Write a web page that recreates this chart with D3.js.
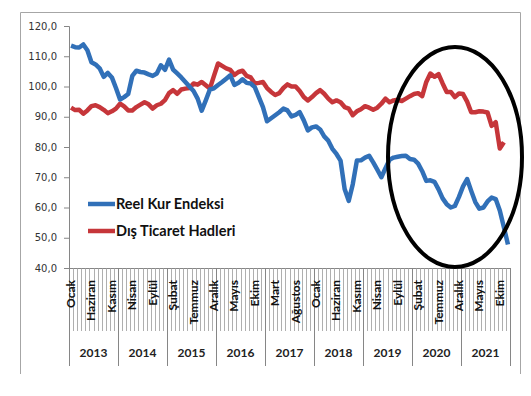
<!DOCTYPE html>
<html>
<head>
<meta charset="utf-8">
<script src="https://cdn.jsdelivr.net/npm/d3@7"></script>
<style>
  body { margin: 0; background: #fff; }
  svg { display: block; }
</style>
</head>
<body>
<svg id="chart" width="531" height="396"></svg>
<script>
// tick labels
const years = ['2013', '2014', '2015', '2016', '2017', '2018', '2019', '2020', '2021'];
const monthNames = ['Ocak', 'Şubat', 'Mart', 'Nisan', 'Mayıs', 'Haziran', 'Temmuz', 'Ağustos', 'Eylül', 'Ekim', 'Kasım', 'Aralık'];
const yTicks = [40, 50, 60, 70, 80, 90, 100, 110, 120];

// series
const kur = [
  113.5, 113.0, 112.9, 113.9, 112.0, 108.0, 107.3, 106.0, 103.2, 104.5, 103.0, 99.5,
  95.7, 96.5, 97.5, 103.5, 105.2, 104.8, 104.6, 104.0, 103.5, 104.3, 107.0, 105.5,
  108.9, 105.6, 104.3, 103.0, 101.5, 100.0, 98.5, 96.0, 92.0, 95.4, 99.0, 99.4,
  100.5, 101.5, 102.6, 103.7, 100.5, 101.2, 102.4, 101.2, 101.0, 99.8, 96.5, 93.2,
  88.5, 89.5, 90.5, 91.5, 92.7, 92.1, 90.1, 90.6, 91.5, 88.8, 85.5, 86.5,
  86.8, 85.8, 83.5, 82.1, 79.4, 77.7, 75.5, 66.1, 62.2, 67.7, 75.5, 75.6,
  76.5, 77.1, 74.9, 72.5, 70.0, 73.0, 75.8, 76.5, 76.8, 77.0, 77.1, 76.0,
  75.8, 74.5, 72.0, 68.8, 69.0, 68.5, 66.0, 63.0, 61.1, 60.0, 60.5, 63.5,
  67.0, 69.4, 65.5, 61.8, 59.6, 60.0, 62.0, 63.3, 62.8, 59.0, 53.5, 47.8
];
const ticaret = [
  93.0, 92.2, 92.3, 91.0, 92.1, 93.5, 93.8, 93.2, 92.3, 91.2, 91.8, 92.7,
  94.3, 93.4, 92.1, 92.1, 93.2, 94.0, 94.8, 94.1, 92.7, 93.8, 94.3, 95.5,
  97.8, 98.8, 97.6, 99.0, 99.3, 99.5, 101.0, 100.6, 101.5, 100.4, 99.3, 103.5,
  107.6, 106.8, 106.0, 105.5, 103.8, 104.8, 105.2, 103.5, 103.0, 101.0, 101.2, 101.5,
  99.5, 98.2, 97.2, 97.8, 99.5, 100.7, 100.0, 100.0, 98.5, 96.5, 95.4, 96.5,
  97.8, 98.8, 97.6, 96.0, 94.8, 95.4, 94.8, 93.2, 92.7, 90.5, 91.8, 92.5,
  93.5, 93.0, 92.3, 93.0, 94.3, 96.0, 94.8, 95.4, 95.6, 95.2, 96.0, 96.8,
  97.5, 97.8, 96.8, 101.5, 104.3, 103.2, 104.1, 101.0, 98.2, 98.2, 96.5, 97.7,
  97.5, 95.0, 91.5, 91.5, 91.8, 91.7, 91.4, 87.0, 88.2, 79.5, 81.6
];
const seriesNames = ['Reel Kur Endeksi', 'Dış Ticaret Hadleri'];
const seriesColors = ['#3170b8', '#c6363a'];

const months = years.flatMap(y => monthNames.map(m => y + ' ' + m));

const svg = d3.select('#chart');
const plotLeft = 69, plotRight = 510, plotTop = 26, plotBottom = 268;

const x = d3.scaleBand().domain(d3.range(months.length)).range([plotLeft, plotRight]).padding(0);
const y = d3.scaleLinear().domain([40, 120]).range([plotBottom, plotTop]);
const bw = x.bandwidth();

// outer frame (no bottom edge visible)
svg.append('path')
  .attr('d', 'M20.5,374V12.5H520.5V374')
  .attr('fill', 'none')
  .attr('stroke', '#a6a6a6')
  .attr('stroke-width', 1);

// y axis
const yAxis = svg.append('g')
  .attr('transform', `translate(${plotLeft},0)`)
  .call(d3.axisLeft(y).tickValues(yTicks).tickSize(5).tickPadding(7)
    .tickFormat(d => d3.format('.1f')(d).replace('.', ',')));
yAxis.select('.domain').attr('stroke', '#868686');
yAxis.selectAll('.tick line').attr('stroke', '#868686');
yAxis.selectAll('text')
  .attr('font-family', 'DejaVu Sans')
  .attr('font-size', 10)
  .attr('fill', '#333');

// x axis: month ticks
const xg = svg.append('g');
xg.append('line')
  .attr('x1', plotLeft).attr('x2', plotRight)
  .attr('y1', plotBottom + 0.5).attr('y2', plotBottom + 0.5)
  .attr('stroke', '#868686');
xg.selectAll('line.mt')
  .data(d3.range(months.length + 1))
  .enter().append('line')
  .attr('class', 'mt')
  .attr('x1', i => Math.round(plotLeft + i * bw) + 0.5)
  .attr('x2', i => Math.round(plotLeft + i * bw) + 0.5)
  .attr('y1', plotBottom)
  .attr('y2', 331)
  .attr('stroke', '#9a9a9a')
  .attr('stroke-width', 0.8);

// year dividers
xg.selectAll('line.yr')
  .data(d3.range(years.length + 1))
  .enter().append('line')
  .attr('class', 'yr')
  .attr('x1', i => Math.round(plotLeft + i * 12 * bw) + 0.5)
  .attr('x2', i => Math.round(plotLeft + i * 12 * bw) + 0.5)
  .attr('y1', plotBottom)
  .attr('y2', 366)
  .attr('stroke', '#868686');

// month labels every 5 months
xg.selectAll('text.ml')
  .data(d3.range(0, months.length, 5))
  .enter().append('text')
  .attr('class', 'ml')
  .attr('transform', i => `translate(${x(i) + bw / 2 + 4},280) rotate(-90)`)
  .attr('text-anchor', 'end')
  .attr('font-family', 'Lato')
  .attr('font-weight', 'bold')
  .attr('font-size', 12)
  .attr('fill', '#111')
  .text(i => months[i].split(' ')[1]);

// year labels
xg.selectAll('text.yl')
  .data(years)
  .enter().append('text')
  .attr('class', 'yl')
  .attr('x', (d, i) => plotLeft + (i * 12 + 6) * bw)
  .attr('y', 357)
  .attr('text-anchor', 'middle')
  .attr('font-family', 'Lato')
  .attr('font-weight', 'bold')
  .attr('font-size', 12)
  .attr('fill', '#222')
  .text(d => d);

// lines
const line = d3.line()
  .x((d, i) => x(i) + bw / 2)
  .y(d => y(d));

[ticaret, kur].forEach((s, k) => {
  svg.append('path')
    .datum(s)
    .attr('fill', 'none')
    .attr('stroke', seriesColors[1 - k])
    .attr('stroke-width', 4.5)
    .attr('stroke-linejoin', 'round')
    .attr('d', line);
});

// legend
const legend = svg.append('g');
seriesNames.forEach((name, i) => {
  const ly = 204 + i * 27;
  legend.append('line')
    .attr('x1', 88).attr('x2', 115)
    .attr('y1', ly).attr('y2', ly)
    .attr('stroke', seriesColors[i])
    .attr('stroke-width', 4.5);
  legend.append('text')
    .attr('x', 116)
    .attr('y', ly + 5)
    .attr('font-family', 'Lato')
    .attr('font-weight', 'bold')
    .attr('font-size', 14.5)
    .attr('fill', '#111')
    .text(name);
});

// hand drawn ellipse
svg.append('ellipse')
  .attr('cx', 455).attr('cy', 157)
  .attr('rx', 67).attr('ry', 110)
  .attr('fill', 'none')
  .attr('stroke', '#000')
  .attr('stroke-width', 4);
</script>
</body>
</html>
